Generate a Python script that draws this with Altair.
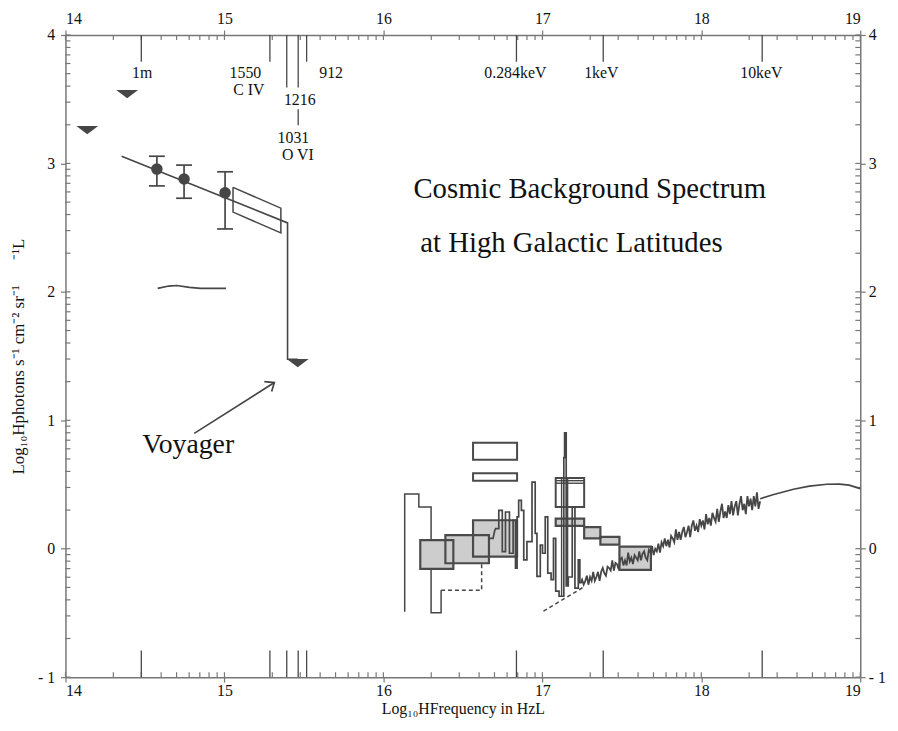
import math
import altair as alt
import pandas as pd

SERIF = "Liberation Serif"
INK = "#464646"
FRAME = "#777777"
TEXT = "#111111"
FILL = "#cdcdcd"
W, H = 802, 648

# ---------------- data ----------------
# upper limits (filled downward triangles)
LIMIT_X = [14.137, 14.388, 15.461]
LIMIT_Y = [3.26, 3.54, 1.445]

# measurements with error bars
PT_X = [14.575, 14.746, 15.004]
PT_Y = [2.956, 2.879, 2.771]
PT_LO = [2.825, 2.729, 2.49]
PT_HI = [3.056, 2.987, 2.935]

# power-law line with the Voyager drop
PL_X = [14.353, 15.397, 15.397, 15.461]
PL_Y = [3.056, 2.537, 1.475, 1.475]

# open parallelogram
PAR_X = [15.054, 15.355, 15.355, 15.054, 15.054]
PAR_Y = [2.814, 2.652, 2.459, 2.621, 2.814]

# flat segment near 2
FLAT_X = [14.58, 14.65, 14.70, 14.78, 14.85, 15.01]
FLAT_Y = [2.027, 2.045, 2.05, 2.035, 2.027, 2.027]

# tall open step outline
STEP_X = [16.134, 16.134, 16.223, 16.223, 16.300, 16.300, 16.363, 16.363]
STEP_Y = [-0.49, 0.427, 0.427, 0.325, 0.325, -0.498, -0.498, -0.323]

# dashed continuations
DASH1_X = [16.363, 16.618, 16.618, 16.654]
DASH1_Y = [-0.323, -0.323, 0.093, 0.10]
DASH2_X = [17.007, 17.267]
DASH2_Y = [-0.486, -0.293]

# shaded boxes: x1, x2, y1, y2
SH_X1 = [16.232, 16.390, 16.564, 17.084, 17.263, 17.365, 17.485]
SH_X2 = [16.440, 16.664, 16.841, 17.263, 17.365, 17.485, 17.683]
SH_Y1 = [-0.157, -0.113, -0.061, 0.178, 0.080, 0.032, -0.164]
SH_Y2 = [0.067, 0.106, 0.222, 0.234, 0.168, 0.092, 0.016]

# open boxes
OB_X1 = [16.564, 16.564, 17.084]
OB_X2 = [16.841, 16.841, 17.263]
OB_Y1 = [0.692, 0.530, 0.325]
OB_Y2 = [0.826, 0.587, 0.551]

# inner lines of the open box
INNER_Y = [0.530, 0.510]
INNER_X1 = [17.084, 17.084]
INNER_X2 = [17.263, 17.263]

# vertical bars through the open box
VBAR_X = [17.121, 17.159]
VBAR_Y1 = [0.551, 0.551]
VBAR_Y2 = [-0.37, -0.29]

# jagged histogram spectrum (x, y)
JAG = [
    (16.660, 0.080), (16.690, 0.080), (16.700, 0.140), (16.706, 0.157), (16.726, 0.157),
    (16.726, 0.299), (16.748, 0.299), (16.748, -0.022), (16.768, -0.022), (16.768, 0.286),
    (16.793, 0.286), (16.793, -0.035), (16.816, -0.035), (16.816, 0.222), (16.831, 0.222),
    (16.831, -0.151), (16.841, -0.151), (16.841, 0.248), (16.851, 0.248), (16.851, 0.376),
    (16.868, 0.376), (16.868, 0.299), (16.883, 0.299), (16.883, -0.087), (16.903, -0.087),
    (16.903, 0.055), (16.935, 0.055), (16.935, 0.518), (16.955, 0.518), (16.955, 0.119),
    (16.966, 0.119), (16.966, -0.215), (16.987, -0.215), (16.987, 0.029), (17.001, 0.029),
    (17.001, -0.035), (17.018, -0.035), (17.018, 0.248), (17.034, 0.248), (17.034, -0.190),
    (17.055, -0.190), (17.055, -0.240), (17.070, -0.240), (17.070, 0.080), (17.084, 0.080),
    (17.084, -0.330), (17.105, -0.330), (17.105, -0.370), (17.135, -0.370), (17.135, 0.710),
    (17.140, 0.710), (17.140, 0.903), (17.150, 0.903), (17.150, -0.290), (17.163, -0.290),
    (17.163, -0.220), (17.188, -0.220), (17.188, 0.325), (17.205, 0.325), (17.205, -0.306),
    (17.226, -0.306), (17.226, -0.087), (17.236, -0.087), (17.236, -0.270),
]

# noisy X-ray spectrum
NOISE_X = [
    17.24, 17.25, 17.26, 17.27, 17.28, 17.29, 17.30, 17.31, 17.32, 17.33,
    17.34, 17.35, 17.36, 17.37, 17.38, 17.39, 17.40, 17.41, 17.42, 17.43,
    17.44, 17.45, 17.46, 17.47, 17.48, 17.49, 17.50, 17.51, 17.52, 17.53,
    17.54, 17.55, 17.56, 17.57, 17.58, 17.59, 17.60, 17.61, 17.62, 17.63,
    17.64, 17.65, 17.66, 17.67, 17.68, 17.69, 17.70, 17.71, 17.72, 17.73,
    17.74, 17.75, 17.76, 17.77, 17.78, 17.79, 17.80, 17.81, 17.82, 17.83,
    17.84, 17.85, 17.86, 17.87, 17.88, 17.89, 17.90, 17.91, 17.92, 17.93,
    17.94, 17.95, 17.96, 17.97, 17.98, 17.99, 18.00, 18.01, 18.02, 18.03,
    18.04, 18.05, 18.06, 18.07, 18.08, 18.09, 18.10, 18.11, 18.12, 18.13,
    18.14, 18.15, 18.16, 18.17, 18.18, 18.19, 18.20, 18.21, 18.22, 18.23,
    18.24, 18.25, 18.26, 18.27, 18.28, 18.29, 18.30, 18.31, 18.32, 18.33,
    18.34, 18.35, 18.36, 18.37,
]
NOISE_Y = [
    -0.27, -0.24, -0.28, -0.25, -0.21, -0.28, -0.22, -0.25, -0.18, -0.25,
    -0.22, -0.18, -0.25, -0.18, -0.15, -0.19, -0.21, -0.14, -0.15, -0.17,
    -0.09, -0.17, -0.11, -0.12, -0.16, -0.08, -0.07, -0.13, -0.09, -0.13,
    -0.03, -0.10, -0.07, -0.12, -0.05, -0.07, -0.09, -0.02, -0.09, -0.04,
    -0.02, -0.07, -0.09, -0.01, -0.03, 0.02, -0.05, 0.00, -0.02, 0.04,
    -0.03, 0.05, 0.02, 0.08, 0.02, 0.07, 0.01, 0.10, 0.08, 0.05,
    0.15, 0.07, 0.13, 0.07, 0.13, 0.17, 0.09, 0.13, 0.18, 0.09,
    0.18, 0.22, 0.14, 0.18, 0.13, 0.23, 0.18, 0.22, 0.15, 0.27,
    0.19, 0.24, 0.18, 0.28, 0.24, 0.21, 0.31, 0.21, 0.29, 0.35,
    0.24, 0.29, 0.24, 0.34, 0.27, 0.37, 0.26, 0.33, 0.37, 0.26,
    0.35, 0.41, 0.30, 0.35, 0.27, 0.41, 0.33, 0.39, 0.30, 0.41,
    0.33, 0.44, 0.31, 0.37,
]

# smooth high-energy curve
SMOOTH_X = [18.37, 18.45, 18.58, 18.68, 18.79, 18.87, 18.93, 18.98, 19.0]
SMOOTH_Y = [0.389, 0.42, 0.463, 0.488, 0.502, 0.503, 0.495, 0.476, 0.468]

# Voyager arrow
ARROW_X = [14.810, 15.314]
ARROW_Y = [0.898, 1.294]
HEAD_X = [15.251, 15.314, 15.297]
HEAD_Y = [1.301, 1.294, 1.225]

# special-frequency markers (1 micron, 1550, 1216, 1031, 912 A, 0.284, 1, 10 keV)
LINE_FREQ = [14.477, 15.286, 15.392, 15.464, 15.517, 16.837, 17.383, 18.383]
TOP_SHORT = [14.477, 15.286, 15.517, 16.837, 17.383, 18.383]
FREQ_1216 = [15.392]
FREQ_1031 = [15.464]

LABELS = ["1m", "1550", "C IV", "912", "1216", "1031", "O VI", "0.284keV", "1keV", "10keV"]
LABEL_X = [14.482, 15.132, 15.153, 15.671, 15.474, 15.434, 15.462, 16.830, 17.371, 18.378]
LABEL_Y = [3.70, 3.70, 3.570, 3.70, 3.495, 3.200, 3.064, 3.70, 3.70, 3.70]

TITLE_LINES = ["Cosmic Background Spectrum", "at High Galactic Latitudes"]
TITLE_X = [17.298, 17.183]
TITLE_Y = [2.80, 2.38]

VOY_TEXT = ["Voyager"]
VOY_X = [14.772]
VOY_Y = [0.806]

MAJOR_X = [14, 15, 16, 17, 18, 19]
MAJOR_Y = [-1, 0, 1, 2, 3, 4]
MINOR_X = [n + math.log10(k) for n in range(14, 19) for k in range(2, 10)]
MINOR_Y = [n + math.log10(k) for n in range(-1, 4) for k in range(2, 10)]

X_TITLE = "Log\u2081\u2080HFrequency in HzL"
Y_TITLE = "Log\u2081\u2080Hphotons s\u207b\u00b9 cm\u207b\u00b2 sr\u207b\u00b9\u2003\u2002\u207b\u00b9L"

# ---------------- helpers ----------------
XS = alt.Scale(domain=[14, 19], nice=False, zero=False)
YS = alt.Scale(domain=[-1, 4], nice=False, zero=False)


def X(f="x"):
    return alt.X(f"{f}:Q", scale=XS, axis=None)


def Y(f="y"):
    return alt.Y(f"{f}:Q", scale=YS, axis=None)


def path(xs, ys, color=INK, width=1.6, dash=None):
    df = pd.DataFrame({"x": xs, "y": ys, "i": list(range(len(xs)))})
    kw = dict(color=color, strokeWidth=width)
    if dash:
        kw["strokeDash"] = dash
    return alt.Chart(df).mark_line(**kw).encode(x=X(), y=Y(), order="i:Q")


layers = []

# axis carriers
carrier = pd.DataFrame({"x": [14, 19], "y": [-1, 4]})
common = dict(domainColor=FRAME, domainWidth=1.5, tickColor=FRAME, tickWidth=1.2,
              tickSize=5, labelFont=SERIF, labelFontSize=16, labelColor=TEXT,
              grid=False, titleFont=SERIF, titleFontWeight="normal", titleColor=TEXT)
neg = "datum.value < 0 ? '- ' + abs(datum.value) : datum.label"
axisA = alt.Chart(carrier).mark_point(opacity=0).encode(
    x=alt.X("x:Q", scale=XS, axis=alt.Axis(orient="bottom", values=MAJOR_X, format="d",
                                           labelPadding=1, title=X_TITLE, titleFontSize=16,
                                           titlePadding=2, **common)),
    y=alt.Y("y:Q", scale=YS, axis=alt.Axis(orient="left", values=MAJOR_Y, labelExpr=neg,
                                           labelPadding=6, title=Y_TITLE, titleFontSize=17,
                                           titlePadding=10, **common)),
)
axisB = alt.Chart(carrier).mark_point(opacity=0).encode(
    x=alt.X("x:Q", scale=XS, axis=alt.Axis(orient="top", values=MAJOR_X, format="d",
                                           labelPadding=4, title="", **common)),
    y=alt.Y("y:Q", scale=YS, axis=alt.Axis(orient="right", values=MAJOR_Y, labelExpr=neg,
                                           labelPadding=3, title="", **common)),
)
layers += [axisA, axisB]

# inward ticks
mx = pd.DataFrame({"x": MINOR_X})
my = pd.DataFrame({"y": MINOR_Y})
jx = pd.DataFrame({"x": MAJOR_X})
jy = pd.DataFrame({"y": MAJOR_Y})
tk = dict(color=FRAME, strokeWidth=1.2)
layers += [
    alt.Chart(mx).mark_rule(**tk).encode(x=X(), y=alt.value(H), y2=alt.value(H - 5)),
    alt.Chart(mx).mark_rule(**tk).encode(x=X(), y=alt.value(0), y2=alt.value(5)),
    alt.Chart(jx).mark_rule(**tk).encode(x=X(), y=alt.value(H), y2=alt.value(H - 5)),
    alt.Chart(jx).mark_rule(**tk).encode(x=X(), y=alt.value(0), y2=alt.value(5)),
    alt.Chart(my).mark_rule(**tk).encode(y=Y(), x=alt.value(0), x2=alt.value(5)),
    alt.Chart(my).mark_rule(**tk).encode(y=Y(), x=alt.value(W), x2=alt.value(W - 5)),
    alt.Chart(jy).mark_rule(**tk).encode(y=Y(), x=alt.value(0), x2=alt.value(5)),
    alt.Chart(jy).mark_rule(**tk).encode(y=Y(), x=alt.value(W), x2=alt.value(W - 5)),
]

# special-frequency ticks
sp = dict(color=INK, strokeWidth=1.3)
layers += [
    alt.Chart(pd.DataFrame({"x": LINE_FREQ})).mark_rule(**sp).encode(
        x=X(), y=alt.value(H), y2=alt.value(H - 27)),
    alt.Chart(pd.DataFrame({"x": TOP_SHORT})).mark_rule(**sp).encode(
        x=X(), y=alt.value(0), y2=alt.value(27)),
    alt.Chart(pd.DataFrame({"x": FREQ_1216})).mark_rule(**sp).encode(
        x=X(), y=alt.value(0), y2=alt.value(53)),
    alt.Chart(pd.DataFrame({"x": FREQ_1031})).mark_rule(**sp).encode(
        x=X(), y=alt.value(0), y2=alt.value(53)),
    alt.Chart(pd.DataFrame({"x": FREQ_1031})).mark_rule(**sp).encode(
        x=X(), y=alt.value(75), y2=alt.value(91)),
]

# labels of special frequencies
lab = pd.DataFrame({"t": LABELS, "x": LABEL_X, "y": LABEL_Y})
layers.append(alt.Chart(lab).mark_text(font=SERIF, fontSize=16, color=TEXT, baseline="middle").encode(
    x=X(), y=Y(), text="t:N"))

# titles and Voyager label
tt = pd.DataFrame({"t": TITLE_LINES, "x": TITLE_X, "y": TITLE_Y})
layers.append(alt.Chart(tt).mark_text(font=SERIF, fontSize=29, color=TEXT, baseline="middle").encode(
    x=X(), y=Y(), text="t:N"))
vy = pd.DataFrame({"t": VOY_TEXT, "x": VOY_X, "y": VOY_Y})
layers.append(alt.Chart(vy).mark_text(font=SERIF, fontSize=28, color=TEXT, baseline="middle").encode(
    x=X(), y=Y(), text="t:N"))
layers.append(path(ARROW_X, ARROW_Y, width=1.7))
layers.append(path(HEAD_X, HEAD_Y, width=1.7))

# optical/UV part
layers.append(path(PL_X, PL_Y, width=1.6))
layers.append(path(PAR_X, PAR_Y, width=1.5))
layers.append(path(FLAT_X, FLAT_Y, width=1.6))
err = pd.DataFrame({"x": PT_X, "lo": PT_LO, "hi": PT_HI})
layers.append(alt.Chart(err).mark_rule(color=INK, strokeWidth=1.7).encode(
    x=X(), y=Y("lo"), y2=alt.Y2("hi:Q")))
caps = pd.DataFrame({"x1": [v - 0.05 for v in PT_X] * 2, "x2": [v + 0.05 for v in PT_X] * 2,
                     "y": PT_LO + PT_HI})
layers.append(alt.Chart(caps).mark_rule(color=INK, strokeWidth=1.7).encode(
    x=X("x1"), x2=alt.X2("x2:Q"), y=Y()))
pts = pd.DataFrame({"x": PT_X, "y": PT_Y})
layers.append(alt.Chart(pts).mark_circle(size=135, color=INK, opacity=1).encode(x=X(), y=Y()))
lim = pd.DataFrame({"x": LIMIT_X, "y": LIMIT_Y})
layers.append(alt.Chart(lim).mark_point(shape="M -1 -0.38 L 1 -0.38 L 0 0.38 Z", filled=True,
                                         size=484, color=INK, opacity=1).encode(x=X(), y=Y()))

# X-ray part
layers.append(path(STEP_X, STEP_Y, width=1.5))
layers.append(path(DASH1_X, DASH1_Y, width=1.5, dash=[4, 3]))
layers.append(path(DASH2_X, DASH2_Y, width=1.5, dash=[4, 3]))
sh = pd.DataFrame({"x1": SH_X1, "x2": SH_X2, "y1": SH_Y1, "y2": SH_Y2})
layers.append(alt.Chart(sh).mark_rect(fill=FILL).encode(
    x=X("x1"), x2=alt.X2("x2:Q"), y=Y("y1"), y2=alt.Y2("y2:Q")))
layers.append(alt.Chart(sh).mark_rect(fill="transparent", stroke="#4a4a4a", strokeWidth=2.2).encode(
    x=X("x1"), x2=alt.X2("x2:Q"), y=Y("y1"), y2=alt.Y2("y2:Q")))
ob = pd.DataFrame({"x1": OB_X1, "x2": OB_X2, "y1": OB_Y1, "y2": OB_Y2})
layers.append(alt.Chart(ob).mark_rect(fill="transparent", stroke="#4a4a4a", strokeWidth=2).encode(
    x=X("x1"), x2=alt.X2("x2:Q"), y=Y("y1"), y2=alt.Y2("y2:Q")))
inner = pd.DataFrame({"x1": INNER_X1, "x2": INNER_X2, "y": INNER_Y})
layers.append(alt.Chart(inner).mark_rule(color=INK, strokeWidth=1.4).encode(
    x=X("x1"), x2=alt.X2("x2:Q"), y=Y()))
vb = pd.DataFrame({"x": VBAR_X, "y1": VBAR_Y1, "y2": VBAR_Y2})
layers.append(alt.Chart(vb).mark_rule(color=INK, strokeWidth=1.4).encode(
    x=X(), y=Y("y1"), y2=alt.Y2("y2:Q")))
layers.append(path([p[0] for p in JAG], [p[1] for p in JAG], width=1.7))
layers.append(path(NOISE_X, NOISE_Y, width=1.8))
layers.append(path(SMOOTH_X, SMOOTH_Y, width=1.7))

chart = alt.layer(*layers).properties(
    width=W, height=H,
    padding={"left": 58, "top": 24, "right": 30, "bottom": 43},
    autosize=alt.AutoSizeParams(type="none"),
).resolve_axis(x="independent", y="independent").configure_view(stroke=None)

chart.save("out.html", embed_options={"renderer": "svg", "actions": False})
